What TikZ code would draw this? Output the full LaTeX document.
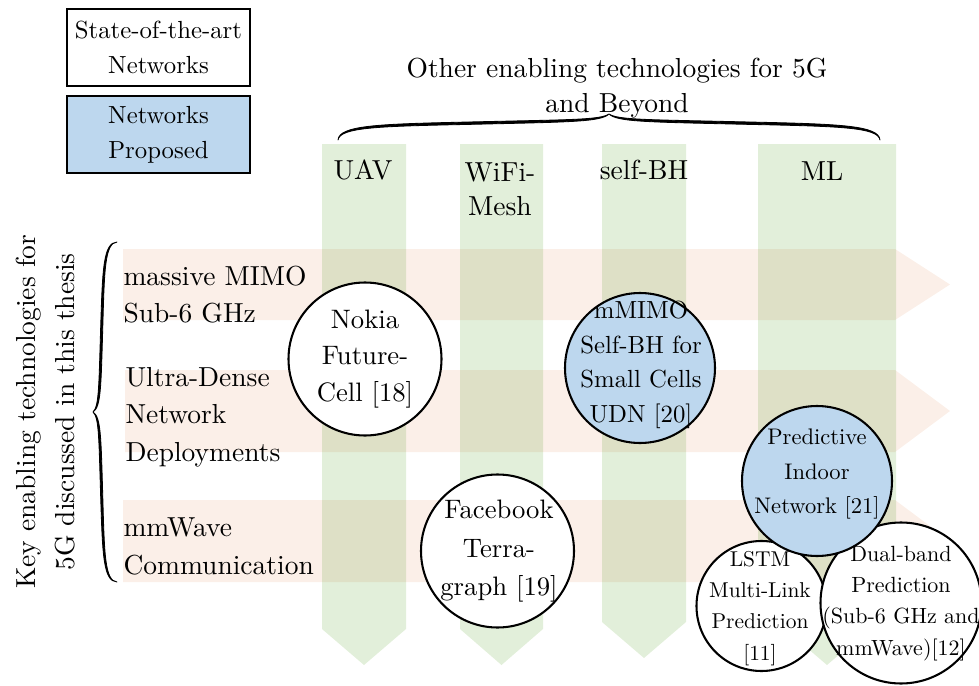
\documentclass[tikz,border=0pt]{standalone}
\usepackage{fontspec}
\setmainfont{lmroman10-regular.otf}

\definecolor{techgreen}{HTML}{E2EFDA}
\definecolor{keypink}{HTML}{FBEFE8}
\definecolor{propblue}{HTML}{BDD7EE}

% one drawing unit in points
\newcommand\pxu{0.3636pt}
\newcommand\setfs[2]{\fontsize{#1}{#2}\selectfont}

\begin{document}
\begin{tikzpicture}[x=0.3636pt, y=-0.3636pt,
  column/.style={fill=techgreen},
  keyrow/.style={fill=keypink},
  netcircle/.style={circle, draw, line width=0.75pt, fill=white, inner sep=0pt, minimum size=#1*\pxu},
  propcircle/.style={netcircle=#1, fill=propblue},
  legendbox/.style={draw, line width=0.75pt, minimum width=183*\pxu, minimum height=77*\pxu,
                    inner sep=0pt, align=center, font=\setfs{9}{13}},
  ctext/.style={align=center, inner sep=0pt},
  lbl/.style={align=center, inner sep=0pt, font=\setfs{10}{12.4}},
  rowlbl/.style={align=left, anchor=west, inner sep=0pt, font=\setfs{10}{13.6}},
  curly/.style={fill=black, draw=black, line width=0.3pt, line join=round}
]
\useasboundingbox (0,0) rectangle (979,686);

% other enabling technologies: vertical arrows
\fill[column] (322,144) -- (406,144) -- (406,629) -- (364,665) -- (322,629) -- cycle;
\fill[column] (460,144) -- (543,144) -- (543,629) -- (501.5,665) -- (460,629) -- cycle;
\fill[column] (602,144) -- (686,144) -- (686,622) -- (644,658) -- (602,622) -- cycle;
\fill[column] (758,144) -- (896,144) -- (896,606) -- (827,665) -- (758,606) -- cycle;

% key technologies: horizontal arrows
\begin{scope}[blend mode=multiply]
\fill[keyrow] (123,249) -- (895,249) -- (950,284.5) -- (895,320) -- (123,320) -- cycle;
\fill[keyrow] (125,370) -- (895,370) -- (950,411) -- (895,452) -- (125,452) -- cycle;
\fill[keyrow] (123,500) -- (895,500) -- (950,541) -- (895,582) -- (123,582) -- cycle;
\end{scope}

% legend
\node[legendbox] (sota) at (158.5,47.5) {State-of-the-art\\Networks};
\node[legendbox, fill=propblue, font=\setfs{9}{12.7}] (prop) at (158.5,134.5) {Networks\\Proposed};

% heading over the columns, with its brace
\node[align=center, inner sep=0pt, font=\setfs{10}{12.7}] (other) at (617,88) {Other enabling technologies for 5G\\and Beyond};
\path[curly] (338,140)
  .. controls (340,127) and (380,126.3) .. (473,124.3)
  .. controls (570,122) and (601,122) .. (609,114)
  .. controls (617,122) and (648,122) .. (745,124.3)
  .. controls (838,126.3) and (878,127) .. (880,140)
  .. controls (879,125) and (838,124) .. (745,121.9)
  .. controls (648,119.6) and (618,120) .. (609,114)
  .. controls (600,120) and (570,119.6) .. (473,121.9)
  .. controls (380,124) and (339,125) .. (338,140) -- cycle;

% heading beside the rows, with its brace
\node[rotate=90, align=center, inner sep=0pt, font=\setfs{10}{14.2}] (keylbl) at (46,412)
  {Key enabling technologies for\\5G discussed in this thesis};
\path[curly] (117,242)
  .. controls (105,243.3) and (104.4,268.3) .. (102.8,326.7)
  .. controls (101,387.5) and (101,407) .. (93,412)
  .. controls (101,417) and (101,436.5) .. (102.8,497.3)
  .. controls (104.4,555.7) and (105,580.7) .. (117,582)
  .. controls (103.4,581.4) and (102.5,555.7) .. (100.7,497.3)
  .. controls (98.8,436.5) and (99,417.6) .. (93,412)
  .. controls (99,406.4) and (98.8,387.5) .. (100.7,326.7)
  .. controls (102.5,268.3) and (103.4,242.6) .. (117,242) -- cycle;

% column labels
\node[lbl] (uav) at (363,170) {UAV};
\node[lbl] (mesh) at (500,189) {WiFi-\\Mesh};
\node[lbl] (sbh) at (644,170) {self-BH};
\node[lbl] (ml) at (822,171) {ML};

% row labels
\node[rowlbl] (mimo) at (123,294.5) {massive MIMO\\Sub-6 GHz};
\node[rowlbl] (udn) at (125,417) {Ultra-Dense\\Network\\Deployments};
\node[rowlbl] (mmw) at (123,546.5) {mmWave\\Communication};

% networks
\node[netcircle=153] (nokia) at (365,359) {};
\node[ctext, font=\setfs{9.7}{13.3}] (nokiatext) at (nokia) {Nokia\\Future-\\Cell [18]};

\node[propcircle=150] (selfbh) at (640,368) {};
\node[ctext, font=\setfs{9}{12.6}] (selfbhtext) at (641,365) {mMIMO\\Self-BH for\\Small Cells\\UDN [20]};

\node[netcircle=153] (fb) at (497.5,551) {};
\node[ctext, font=\setfs{9.7}{14}] (fbtext) at (499,551.5) {Facebook\\Terra-\\graph [19]};

\node[netcircle=130] (lstm) at (761.5,606) {};
\node[ctext, font=\setfs{7.8}{11.3}] (lstmtext) at (760,608.5) {LSTM\\Multi-Link\\Prediction\\{[11]}};

\node[netcircle=161] (dual) at (901,603) {};
\node[ctext, font=\setfs{8}{11.3}] (dualtext) at (901,603.5) {Dual-band\\Prediction\\(Sub-6 GHz and\\mmWave)[12]};

\node[propcircle=150] (pred) at (817,481) {};
\node[ctext, font=\setfs{8.2}{12.4}] (predtext) at (817,474) {Predictive\\Indoor\\Network [21]};
\end{tikzpicture}
\end{document}
